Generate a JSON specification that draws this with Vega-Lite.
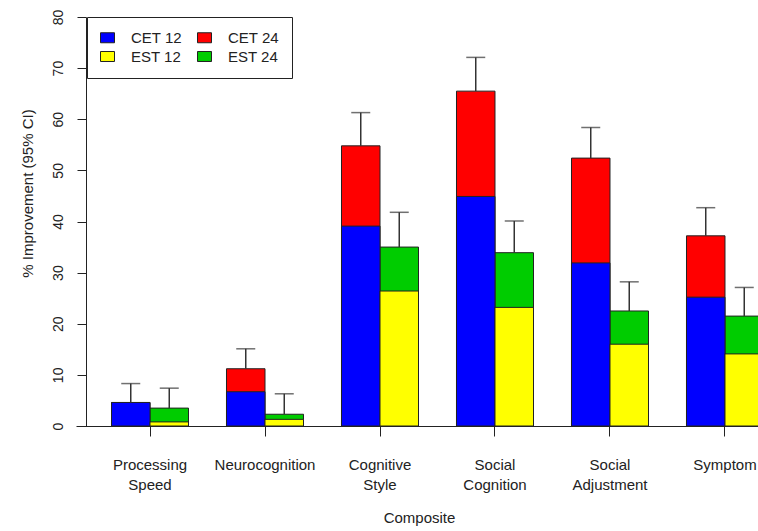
{
  "$schema": "https://vega.github.io/schema/vega-lite/v6.json",
  "width": 672,
  "height": 409,
  "autosize": {"type": "none"},
  "padding": {"left": 86, "top": 17, "right": 0, "bottom": 105},
  "background": "white",
  "config": {
    "view": {"stroke": null},
    "font": "Liberation Sans",
    "axis": {"grid": false, "domainColor": "#222", "tickColor": "#222", "labelColor": "#222", "titleColor": "#222", "titleFontWeight": "normal", "titleFont": "Liberation Sans", "labelFont": "Liberation Sans"}
  },
  "data": {
    "values": [
      {"composite": "Processing Speed", "arm": "CET", "period": 12, "series": "CET 12", "value": 4.6},
      {"composite": "Processing Speed", "arm": "CET", "period": 24, "series": "CET 24", "value": 4.6, "upper": 8.3},
      {"composite": "Processing Speed", "arm": "EST", "period": 12, "series": "EST 12", "value": 0.8},
      {"composite": "Processing Speed", "arm": "EST", "period": 24, "series": "EST 24", "value": 3.5, "upper": 7.4},
      {"composite": "Neurocognition", "arm": "CET", "period": 12, "series": "CET 12", "value": 6.7},
      {"composite": "Neurocognition", "arm": "CET", "period": 24, "series": "CET 24", "value": 11.2, "upper": 15.1},
      {"composite": "Neurocognition", "arm": "EST", "period": 12, "series": "EST 12", "value": 1.3},
      {"composite": "Neurocognition", "arm": "EST", "period": 24, "series": "EST 24", "value": 2.3, "upper": 6.3},
      {"composite": "Cognitive Style", "arm": "CET", "period": 12, "series": "CET 12", "value": 39.1},
      {"composite": "Cognitive Style", "arm": "CET", "period": 24, "series": "CET 24", "value": 54.8, "upper": 61.3},
      {"composite": "Cognitive Style", "arm": "EST", "period": 12, "series": "EST 12", "value": 26.4},
      {"composite": "Cognitive Style", "arm": "EST", "period": 24, "series": "EST 24", "value": 35.0, "upper": 41.8},
      {"composite": "Social Cognition", "arm": "CET", "period": 12, "series": "CET 12", "value": 44.9},
      {"composite": "Social Cognition", "arm": "CET", "period": 24, "series": "CET 24", "value": 65.5, "upper": 72.1},
      {"composite": "Social Cognition", "arm": "EST", "period": 12, "series": "EST 12", "value": 23.2},
      {"composite": "Social Cognition", "arm": "EST", "period": 24, "series": "EST 24", "value": 33.9, "upper": 40.1},
      {"composite": "Social Adjustment", "arm": "CET", "period": 12, "series": "CET 12", "value": 31.9},
      {"composite": "Social Adjustment", "arm": "CET", "period": 24, "series": "CET 24", "value": 52.4, "upper": 58.4},
      {"composite": "Social Adjustment", "arm": "EST", "period": 12, "series": "EST 12", "value": 16.0},
      {"composite": "Social Adjustment", "arm": "EST", "period": 24, "series": "EST 24", "value": 22.5, "upper": 28.2},
      {"composite": "Symptom", "arm": "CET", "period": 12, "series": "CET 12", "value": 25.2},
      {"composite": "Symptom", "arm": "CET", "period": 24, "series": "CET 24", "value": 37.2, "upper": 42.7},
      {"composite": "Symptom", "arm": "EST", "period": 12, "series": "EST 12", "value": 14.1},
      {"composite": "Symptom", "arm": "EST", "period": 24, "series": "EST 24", "value": 21.5, "upper": 27.1}
    ]
  },
  "encoding": {
    "x": {
      "field": "composite",
      "type": "nominal",
      "sort": ["Processing Speed", "Neurocognition", "Cognitive Style", "Social Cognition", "Social Adjustment", "Symptom"],
      "scale": {"domain": ["Processing Speed", "Neurocognition", "Cognitive Style", "Social Cognition", "Social Adjustment", "Symptom"], "range": [-10, 713], "paddingInner": 0.3304, "paddingOuter": 0.3087},
      "axis": {
        "title": "Composite",
        "labelAngle": 0,
        "labelExpr": "split(datum.value, ' ')",
        "labelFontSize": 15,
        "labelLineHeight": 20,
        "labelBaseline": "middle",
        "labelAlign": "center",
        "labelPadding": 28,
        "labelOverlap": false,
        "labelFlush": false,
        "labelBound": false,
        "tickSize": 10,
        "bandPosition": 0.5,
        "titleFontSize": 15,
        "titleX": 333,
        "titleY": 91,
        "titleBaseline": "middle",
        "titleAnchor": null
      }
    },
    "xOffset": {
      "field": "arm",
      "type": "nominal",
      "scale": {"domain": ["CET", "EST"], "paddingInner": 0, "paddingOuter": 0}
    }
  },
  "layer": [
    {
      "transform": [{"filter": "datum.period == 24"}],
      "mark": {"type": "bar", "stroke": "#222", "strokeWidth": 1, "opacity": 1},
      "encoding": {
        "y": {
          "field": "value",
          "type": "quantitative",
          "scale": {"domain": [0, 80], "nice": false, "zero": true},
          "axis": {
            "title": "% Improvement (95% CI)",
            "values": [0, 10, 20, 30, 40, 50, 60, 70, 80],
            "tickSize": 9,
            "labelAngle": 270,
            "labelAlign": "center",
            "labelBaseline": "middle",
            "labelPadding": 19,
            "labelFontSize": 14,
            "titleFontSize": 15,
            "titleAngle": 270,
            "titleAlign": "center",
            "titleBaseline": "middle",
            "titleX": -59,
            "titleY": 176
          }
        },
        "color": {
          "field": "series",
          "type": "nominal",
          "scale": {"domain": ["CET 12", "EST 12", "CET 24", "EST 24"], "range": ["#0000FF", "#FFFF00", "#FF0000", "#00CC00"]},
          "legend": {
            "title": null,
            "orient": "none",
            "legendX": 1,
            "legendY": 0,
            "columns": 2,
            "symbolType": "M-1.4,-1H1.4V1H-1.4Z",
            "symbolSize": 100,
            "symbolStrokeColor": "#222",
            "symbolStrokeWidth": 1,
            "symbolOpacity": 1,
            "labelFontSize": 15,
            "labelColor": "#222",
            "labelOffset": 16,
            "columnPadding": 13,
            "rowPadding": 3,
            "padding": 13,
            "strokeColor": "#222",
            "fillColor": "white",
            "cornerRadius": 0
          }
        }
      }
    },
    {
      "transform": [{"filter": "datum.period == 12"}],
      "mark": {"type": "bar", "stroke": "#222", "strokeWidth": 1, "opacity": 1},
      "encoding": {
        "y": {"field": "value", "type": "quantitative"},
        "color": {"field": "series", "type": "nominal"}
      }
    },
    {
      "transform": [{"filter": "datum.period == 24"}],
      "mark": {"type": "rule", "color": "#333", "strokeWidth": 1.5},
      "encoding": {
        "y": {"field": "value", "type": "quantitative"},
        "y2": {"field": "upper"}
      }
    },
    {
      "transform": [{"filter": "datum.period == 24"}],
      "mark": {"type": "tick", "color": "#333", "thickness": 1.5, "size": 19, "orient": "horizontal"},
      "encoding": {
        "y": {"field": "upper", "type": "quantitative"}
      }
    }
  ]
}
